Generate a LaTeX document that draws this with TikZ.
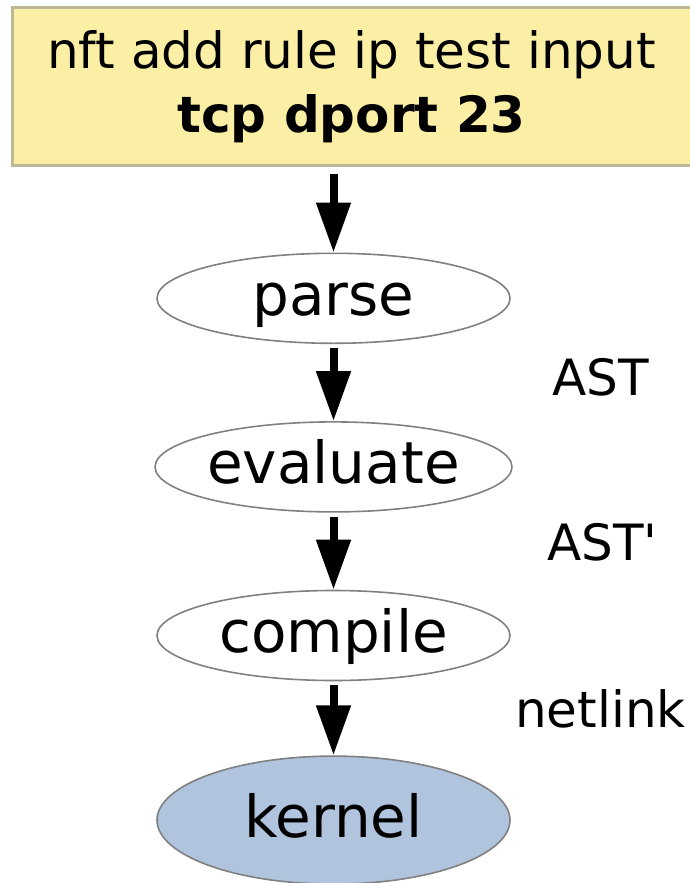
\documentclass[tikz,border=0pt]{standalone}
\usepackage{fontspec}
\setmainfont{DejaVu Sans}
\newfontfamily\plainfont{DejaVu Sans}
\usetikzlibrary{positioning, arrows.meta, shapes.geometric}
\definecolor{cmdyellow}{RGB}{251,239,166}
\definecolor{cmdedge}{RGB}{190,184,150}
\definecolor{kernblue}{RGB}{176,196,222}

\begin{document}
\begin{tikzpicture}[
  x=1pt, y=-1pt,
  >={Triangle[length=50pt, width=33pt]},
  cmd/.style   = {draw=cmdedge, line width=3pt, fill=cmdyellow, align=center, inner sep=0pt,
                  minimum width=679pt, minimum height=157pt, font=\fontsize{50}{64}\selectfont},
  stage/.style = {ellipse, draw=gray, line width=1.6pt, inner sep=0pt, minimum width=353pt,
                  minimum height=90pt, text height=42pt, text depth=8pt, font=\fontsize{58}{70}\selectfont},
  sink/.style  = {stage, fill=kernblue, minimum height=128pt},
  lbl/.style   = {anchor=base west, inner sep=0pt, font=\plainfont\fontsize{50}{60}\selectfont},
  arr/.style   = {->, line width=8pt, shorten <=4pt},
]
  \useasboundingbox (0,0) rectangle (690,883);
  % command box on top, its right edge runs off the page
  \node[cmd] (input) at (351.5,86.5) {nft add rule ip test input\\\textbf{tcp dport 23}};
  \node[stage, below=86pt of input, xshift=-18pt] (parse)    {parse};
  \node[stage, below=77pt of parse]               (evaluate) {evaluate};
  \node[stage, below=77pt of evaluate]            (compile)  {compile};
  \node[sink,  below=74pt of compile]             (kernel)   {kernel};
  % what travels between the stages
  \node[lbl] (ast)     at (552,395) {AST};
  \node[lbl] (astmod)  at (547,560) {AST'};
  \node[lbl] (netlink) at (515,727) {netlink};
  \draw[arr, shorten <=7pt] (parse.north |- input.south) -- (parse);
  \foreach \a/\b in {parse/evaluate, evaluate/compile, compile/kernel}
     \draw[arr] (\a) -- (\b);
\end{tikzpicture}
\end{document}
